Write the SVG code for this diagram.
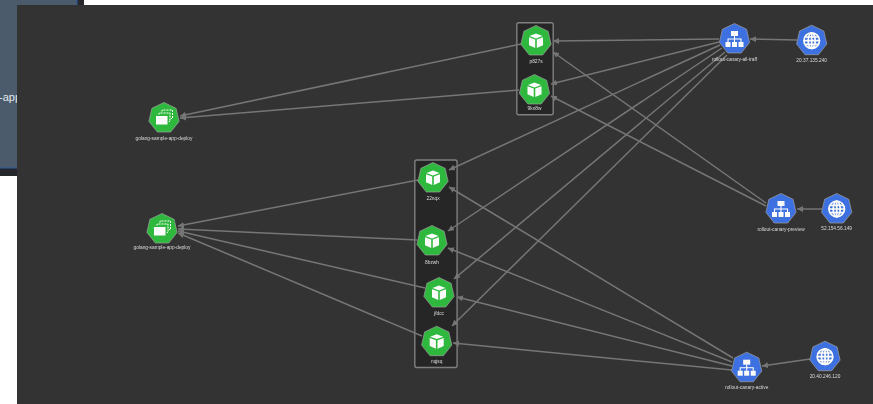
<svg xmlns="http://www.w3.org/2000/svg" width="873" height="404" viewBox="0 0 873 404">
<style>
.lbl{font-family:"Liberation Sans",Arial,sans-serif;font-size:4.800px;fill:#dcdcdc;text-anchor:middle}
.box{fill:#272727;stroke:#808080;stroke-width:1.4}
.e{stroke:#767676;stroke-width:1.5;fill:none;marker-end:url(#arr)}
.g{fill:#2db83d;stroke:#a0a0a0;stroke-width:.7}
.b{fill:#3d6fe0;stroke:#a0a0a0;stroke-width:.7}
.w{fill:#fff}
.gl{fill:none;stroke:#fff;stroke-width:1.700}
</style>
<defs>
<marker id="arr" markerUnits="userSpaceOnUse" markerWidth="7" markerHeight="7" refX="6" refY="3" orient="auto"><path d="M0 0L6 3L0 6Z" fill="#767676"/></marker>
<filter id="soft" x="-5%" y="-5%" width="110%" height="110%"><feGaussianBlur stdDeviation=".35"/></filter>
<polygon id="hep" points="0,-15.500 12.100,-9.700 15.100,3.400 6.700,14 -6.700,14 -15.100,3.400 -12.100,-9.700"/>
<g id="cube"><path class="w" d="M0-7.500L6.500-5L0-2.600L-6.500-5ZM-7-3.800L-.8-1.400V7L-7 4.300ZM7-3.800L.8-1.400V7L7 4.300Z"/></g>
<g id="dep"><rect class="w" x="-8" y="-3" width="11.500" height="8.500"/><path d="M-5-4.500V-6H6V2.500H4.800M-2-7.500V-9H8.500V-.5H7" fill="none" stroke="#fff" stroke-width="1" stroke-dasharray="2 1"/></g>
<g id="net"><rect class="w" x="-3.500" y="-8" width="7" height="5"/><rect class="w" x="-9" y="3" width="5" height="5"/><rect class="w" x="-2.500" y="3" width="5" height="5"/><rect class="w" x="4" y="3" width="5" height="5"/><path d="M0-3V3M-6.500 3V0H6.500V3" fill="none" stroke="#fff" stroke-width="1.100"/></g>
<g id="globe"><circle class="gl" r="7.800"/><ellipse class="gl" rx="3.500" ry="7.800"/><path class="gl" d="M0-7.800V7.800M-7.800 0H7.800M-7-3.700H7M-7 3.700H7"/></g>
</defs>
<rect width="873" height="404" fill="#fff"/>
<rect width="84" height="176" fill="#26272b"/>
<rect width="77" height="168" fill="#4b5b6b"/>
<rect x="76.500" width="1" height="168" fill="#2a5aa0"/>
<rect y="167.500" width="77" height="1" fill="#2a5aa0"/>
<text x="-1" y="101" font-family="Liberation Sans,Arial,sans-serif" font-size="11" fill="#e4e8ec">-app</text>
<rect x="17" y="5" width="856" height="399" fill="#333"/>
<g filter="url(#soft)">
<g id="groups"><rect class="box" x="516.800" y="22.800" width="36.400" height="92" rx="2"/><rect class="box" x="414.800" y="160" width="42.300" height="207.500" rx="2"/></g>
<g id="connectors">
<path class="e" d="M521 44L180 116"/><path class="e" d="M519 90L180 118"/>
<path class="e" d="M418 180L178 226"/><path class="e" d="M417 240L178 229"/><path class="e" d="M425 288L178 231"/><path class="e" d="M422 336L178 233"/>
<path class="e" d="M719 39L553 41"/><path class="e" d="M719 42L551 84"/><path class="e" d="M720 45L449 170"/><path class="e" d="M722 48L448 231"/><path class="e" d="M725 52L454 279"/><path class="e" d="M727 55L452 326"/>
<path class="e" d="M766 203L553 52"/><path class="e" d="M766 206L551 96"/>
<path class="e" d="M733 358L449 187"/><path class="e" d="M732 362L448 248"/><path class="e" d="M732 366L457 297"/><path class="e" d="M732 370L453 343"/>
<path class="e" d="M797 40L750 39"/><path class="e" d="M822 209L797 209"/><path class="e" d="M810 359L762 366"/>
</g>
<g id="deploy-1" transform="translate(164 118)"><use href="#hep" class="g"/><use href="#dep" y="1"/><text class="lbl" y="21.500">golang-sample-app-deploy</text></g>
<g id="deploy-2" transform="translate(162 229)"><use href="#hep" class="g"/><use href="#dep" y="1"/><text class="lbl" y="20">golang-sample-app-deploy</text></g>
<g id="pod-p" transform="translate(536 41)"><use href="#hep" class="g"/><use href="#cube"/><text class="lbl" y="22">p827s</text></g>
<g id="pod-9" transform="translate(534.500 90)"><use href="#hep" class="g"/><use href="#cube"/><text class="lbl" y="20">9kn8w</text></g>
<g id="pod-22" transform="translate(433 178)"><use href="#hep" class="g"/><use href="#cube"/><text class="lbl" y="21.500">22nqx</text></g>
<g id="pod-8b" transform="translate(432 241)"><use href="#hep" class="g"/><use href="#cube"/><text class="lbl" y="22.500">8bzwh</text></g>
<g id="pod-jf" transform="translate(439 293)"><use href="#hep" class="g"/><use href="#cube"/><text class="lbl" y="21.500">jfdcc</text></g>
<g id="pod-nq" transform="translate(436.700 341.700)"><use href="#hep" class="g"/><use href="#cube"/><text class="lbl" y="21.500">nqjsq</text></g>
<g id="svc-all" transform="translate(734.500 39)"><use href="#hep" class="b"/><use href="#net"/><text class="lbl" y="21.500">rollout-canary-all-traff</text></g>
<g id="ip-all" transform="translate(811.700 40.700)"><use href="#hep" class="b"/><use href="#globe"/><text class="lbl" y="21.500">20.37.135.240</text></g>
<g id="svc-preview" transform="translate(781 209)"><use href="#hep" class="b"/><use href="#net"/><text class="lbl" y="21.500">rollout-canary-preview</text></g>
<g id="ip-preview" transform="translate(836.700 209)"><use href="#hep" class="b"/><use href="#globe"/><text class="lbl" y="20.500">52.154.56.149</text></g>
<g id="svc-active" transform="translate(746.700 367.700)"><use href="#hep" class="b"/><use href="#net"/><text class="lbl" y="21.500">rollout-canary-active</text></g>
<g id="ip-active" transform="translate(825 356.700)"><use href="#hep" class="b"/><use href="#globe"/><text class="lbl" y="21.500">20.40.246.120</text></g>
</g>
</svg>
